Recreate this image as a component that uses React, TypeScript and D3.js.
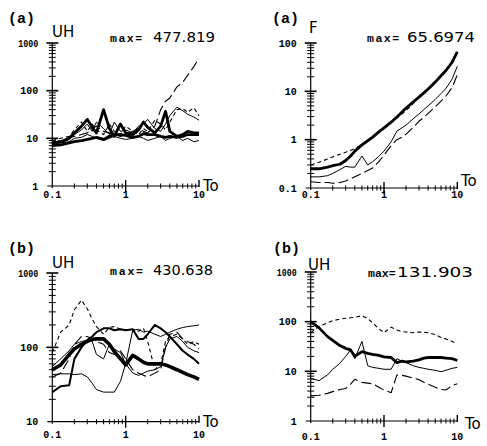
import React from 'react';
import * as d3 from 'd3';

// periods (To) shared by every curve
const periods = [0.1, 0.13, 0.17, 0.2, 0.25, 0.3, 0.35, 0.4, 0.5, 0.6, 0.7, 0.85, 1, 1.25, 1.5, 1.75, 2, 2.5, 3, 3.5, 4, 5, 6, 7, 8.5, 10];
const xTickLabels = ['0.1', '1', '10'];

// (a) UH
const uhA_thickLow = [7, 7.3, 8, 8.5, 9, 9.5, 10, 10.5, 9.5, 11, 12, 12, 11.5, 10.5, 11, 12.5, 12, 12, 11, 10.5, 11, 10.5, 11, 12, 12, 12];
const uhA_thickSpiky = [8, 8.5, 10, 13, 18, 25, 17, 13, 40, 16, 11, 20, 13, 12, 15, 22, 17, 13, 18, 37, 14, 11, 12, 14, 13, 13];
const uhA_thin = [9, 8, 9.5, 12, 15, 20, 14, 22, 16, 12, 22, 14, 15, 13, 18, 20, 25, 16, 14, 20, 30, 45, 38, 32, 28, 24];
const uhA_dash = [9, 10, 11, 15, 22, 14, 20, 15, 12, 20, 14, 12, 18, 14, 12, 16, 14, 24, 20, 15, 22, 40, 42, 35, 44, 30];
const uhA_longDash = [8, 9, 10, 11, 12, 13, 16, 18, 14, 13, 12, 11, 12, 14, 16, 14, 13, 18, 40, 60, 70, 120, 150, 210, 320, 477.819];
const uhA_thin2 = [7.5, 8, 8.5, 10, 10.5, 12, 11, 10, 9, 10, 11, 10, 9.5, 10, 11, 10, 9, 10, 11, 9, 10, 11, 9, 10, 8.5, 9];

// (a) F
const fA_thick = [0.25, 0.25, 0.27, 0.29, 0.31, 0.37, 0.46, 0.58, 0.78, 0.95, 1.13, 1.45, 1.75, 2.3, 2.95, 3.7, 4.5, 6, 7.6, 9.3, 11.2, 15.5, 21, 27, 40, 65.6974];
const fA_dash = [0.3, 0.34, 0.4, 0.44, 0.5, 0.55, 0.6, 0.66, 0.79, 0.95, 1.12, 1.42, 1.7, 2.2, 2.8, 3.4, 4.0, 5.6, 7.4, 9.1, 11, 15.2, 20.5, 26.5, 39, 64];
const fA_thin = [0.17, 0.17, 0.18, 0.2, 0.24, 0.28, 0.27, 0.27, 0.46, 0.3, 0.35, 0.45, 0.58, 0.9, 1.5, 1.75, 2.0, 2.7, 3.4, 4.2, 5.0, 6.8, 9, 11.5, 18, 33];
const fA_longDash = [0.135, 0.13, 0.13, 0.125, 0.13, 0.14, 0.155, 0.17, 0.2, 0.23, 0.26, 0.35, 0.48, 0.75, 1.0, 1.12, 1.3, 1.8, 2.4, 2.9, 3.5, 4.8, 6.3, 8, 12, 22];

// (b) UH, left
const uhB_heavy = [50, 58, 80, 95, 110, 120, 128, 130, 130, 110, 88, 70, 58, 78, 70, 63, 60, 60, 60, 58, 55, 50, 46, 43, 40, 37];
const uhB_medium = [25, 30, 31, 70, 100, 125, 140, 160, 180, 180, 170, 175, 170, 175, 130, 130, 150, 200, 180, 160, 140, 110, 90, 80, 70, 60];
const uhB_thin = [43, 44, 44, 43, 44, 40, 33, 27, 25, 25, 25, 35, 60, 170, 175, 160, 165, 150, 140, 150, 160, 175, 185, 190, 195, 200];
const uhB_thin2 = [55, 70, 90, 110, 120, 125, 120, 80, 70, 110, 95, 85, 60, 45, 42, 45, 48, 50, 55, 100, 130, 140, 120, 100, 90, 85];
const uhB_dash = [85, 160, 200, 320, 430.638, 330, 240, 190, 150, 185, 190, 175, 170, 175, 165, 180, 120, 50, 60, 120, 140, 150, 130, 110, 120, 110];
const uhB_longDash = [40, 45, 70, 110, 140, 140, 130, 120, 110, 85, 80, 90, 70, 50, 45, 42, 40, 45, 50, 100, 150, 160, 130, 120, 110, 95];

// (b) UH, right
const uhB2_thick = [100, 75, 50, 42, 33, 29, 27, 20, 25, 23, 22, 21, 19.5, 19, 15, 16, 15.5, 16, 17, 18.5, 19, 19, 19, 18.5, 18, 16.5];
const uhB2_dash = [60, 80, 95, 105, 112, 117, 120, 122, 131.903, 115, 95, 72, 60, 77, 68, 63, 62, 60, 62, 61, 60, 55, 48, 45, 40, 36];
const uhB2_thin = [7.2, 6.5, 8.5, 11, 14.5, 20, 27, 18, 40, 13, 12, 11.5, 11, 11, 18, 16, 15, 13, 12, 11.5, 11, 10.5, 9.8, 10.5, 11.5, 12];
const uhB2_longDash = [3.2, 3.3, 3.6, 3.9, 4.3, 4.5, 5.5, 6.9, 6.0, 5.8, 5.6, 4.8, 4.2, 3.7, 8.5, 8.3, 8, 7.3, 6.8, 6, 5.5, 4.8, 4.3, 4.2, 5.2, 5.6];

const lineStyles: Record<string, { w: number; dash?: string }> = {
  heavy: { w: 3.6 },
  thick: { w: 2.8 },
  medium: { w: 2 },
  thin: { w: 1 },
  dash: { w: 1.1, dash: '4,3' },
  longDash: { w: 1.1, dash: '10,4' },
};

const panels = [
  {
    tag: '(a)', tagX: 8, tagY: 23, yName: 'UH', yNameX: 52, yNameY: 37,
    max: '477.819', maxX: 110, maxSp: 1.5, numX: 153, numW: 62, maxY: 42,
    x0: 52.3, x1: 199, yMin: 1, yMax: 1000, yB: 186, yT: 43, xLabY: 198, toX: 203, toY: 191,
    yTickLabels: ['1', '10', '100', '1000'],
    series: [
      { v: uhA_thin2, s: 'thin' }, { v: uhA_thin, s: 'thin' }, { v: uhA_dash, s: 'dash' },
      { v: uhA_longDash, s: 'longDash' }, { v: uhA_thickLow, s: 'thick' }, { v: uhA_thickSpiky, s: 'thick' },
    ],
  },
  {
    tag: '(a)', tagX: 272, tagY: 23, yName: 'F', yNameX: 309, yNameY: 33,
    max: '65.6974', maxX: 367, maxSp: 1.5, numX: 407, numW: 68, maxY: 42,
    x0: 310.7, x1: 457.3, yMin: 0.1, yMax: 100, yB: 188, yT: 43, xLabY: 198, toX: 461, toY: 186,
    yTickLabels: ['0.1', '1', '10', '100'],
    series: [
      { v: fA_dash, s: 'dash' }, { v: fA_thin, s: 'thin' }, { v: fA_longDash, s: 'longDash' }, { v: fA_thick, s: 'thick' },
    ],
  },
  {
    tag: '(b)', tagX: 8, tagY: 253, yName: 'UH', yNameX: 52, yNameY: 268,
    max: '430.638', maxX: 110, maxSp: 1.8, numX: 153, numW: 60, maxY: 275,
    x0: 52.3, x1: 199, yMin: 10, yMax: 1000, yB: 421.7, yT: 273, xLabY: 438, toX: 203, toY: 427,
    yTickLabels: ['10', '100', '1000'],
    series: [
      { v: uhB_thin, s: 'thin' }, { v: uhB_thin2, s: 'thin' }, { v: uhB_dash, s: 'dash' },
      { v: uhB_longDash, s: 'longDash' }, { v: uhB_medium, s: 'medium' }, { v: uhB_heavy, s: 'heavy' },
    ],
  },
  {
    tag: '(b)', tagX: 273, tagY: 253, yName: 'UH', yNameX: 308, yNameY: 270,
    max: '131.903', maxX: 368, maxSp: 0, numX: 397, numW: 76, maxY: 277,
    x0: 310.7, x1: 457.3, yMin: 1, yMax: 1000, yB: 421, yT: 272, xLabY: 440, toX: 465, toY: 429,
    yTickLabels: ['1', '10', '100', '1000'],
    series: [
      { v: uhB2_dash, s: 'dash' }, { v: uhB2_thin, s: 'thin' }, { v: uhB2_longDash, s: 'longDash' }, { v: uhB2_thick, s: 'thick' },
    ],
  },
];

const bigFont = 'DejaVu Sans, sans-serif';
const monoFont = 'Liberation Mono, DejaVu Sans Mono, monospace';

function Panel({ p }: { p: typeof panels[number] }) {
  const x = d3.scaleLog().domain([0.1, 10]).range([p.x0, p.x1]);
  const y = d3.scaleLog().domain([p.yMin, p.yMax]).range([p.yB, p.yT]);
  const line = d3.line<number>().x((_, i) => x(periods[i])).y(v => y(v));

  const yTicks: { v: number; major: boolean }[] = [];
  for (let d = p.yMin; d <= p.yMax * 1.001; d *= 10) {
    for (let k = 1; k <= 9; k++) {
      const v = d * k;
      if (v > p.yMax * 1.001) break;
      if (v === p.yMin) continue;
      yTicks.push({ v, major: k === 1 });
    }
  }
  const xTicks: { v: number; major: boolean }[] = [];
  for (const d of [0.1, 1]) {
    for (let k = 1; k <= 9; k++) {
      if (d === 0.1 && k === 1) continue;
      xTicks.push({ v: d * k, major: k === 1 });
    }
  }
  xTicks.push({ v: 10, major: true });

  const ax = x(0.1);
  const ay = y(p.yMin);

  return (
    <g>
      {/* axes */}
      <line x1={ax - 5} x2={x(10)} y1={ay} y2={ay} stroke="#000" strokeWidth={1.2} />
      <line x1={ax} x2={ax} y1={ay + 2} y2={y(p.yMax)} stroke="#000" strokeWidth={1.2} />
      {yTicks.map((t, i) => (
        <line key={'y' + i} x1={ax - (t.major ? 6 : 3.5)} x2={ax + (t.major ? 6 : 3.5)} y1={y(t.v)} y2={y(t.v)}
          stroke="#000" strokeWidth={t.major ? 1.6 : 1} />
      ))}
      {xTicks.map((t, i) => (
        <line key={'x' + i} x1={x(t.v)} x2={x(t.v)} y1={ay - (t.major ? 6 : 2.5)} y2={ay + (t.major ? (t.v === 10 ? 1 : 6) : 2.5)}
          stroke="#000" strokeWidth={t.major ? 1.4 : 1} />
      ))}

      {/* tick labels */}
      {p.yTickLabels.map(l => (
        <text key={l} x={ax - 14} y={y(+l)} dy="0.35em" textAnchor="end" fontFamily={monoFont}
          fontWeight="bold" fontSize={10} textLength={l.length > 3 ? 20 : undefined}
          lengthAdjust="spacingAndGlyphs" fill="#000">{l}</text>
      ))}
      {xTickLabels.map(l => (
        <text key={l} x={x(+l)} y={p.xLabY} textAnchor="middle" fontFamily={monoFont}
          fontWeight="bold" fontSize={10} fill="#000">{l}</text>
      ))}

      {/* curves */}
      {p.series.map((sr, i) => {
        const st = lineStyles[sr.s];
        return (
          <path key={i} d={line(sr.v) || ''} fill="none" stroke="#000" strokeWidth={st.w}
            strokeDasharray={st.dash} strokeLinejoin="round" />
        );
      })}

      {/* titles */}
      <text x={p.tagX} y={p.tagY} fontFamily={monoFont} fontWeight="bold" fontSize={15} fill="#000">{p.tag}</text>
      <text x={p.yNameX} y={p.yNameY} fontFamily={bigFont} fontSize={15} fill="#000">{p.yName}</text>
      <text x={p.toX} y={p.toY} fontFamily={bigFont} fontSize={15} fill="#000">To</text>
      <text x={p.maxX} y={p.maxY} fontFamily={monoFont} fontWeight="bold" fontSize={11.5}
        letterSpacing={p.maxSp} fill="#000">max=</text>
      <text x={p.numX} y={p.maxY} fontFamily={bigFont} fontSize={14.5} textLength={p.numW}
        lengthAdjust="spacingAndGlyphs" fill="#000">{p.max}</text>
    </g>
  );
}

export default function App() {
  return (
    <svg width={487} height={446} style={{ position: 'absolute', left: 0, top: 0, background: '#fff' }}>
      <rect width={487} height={446} fill="#fff" />
      {panels.map((p, i) => <Panel key={i} p={p} />)}
    </svg>
  );
}
